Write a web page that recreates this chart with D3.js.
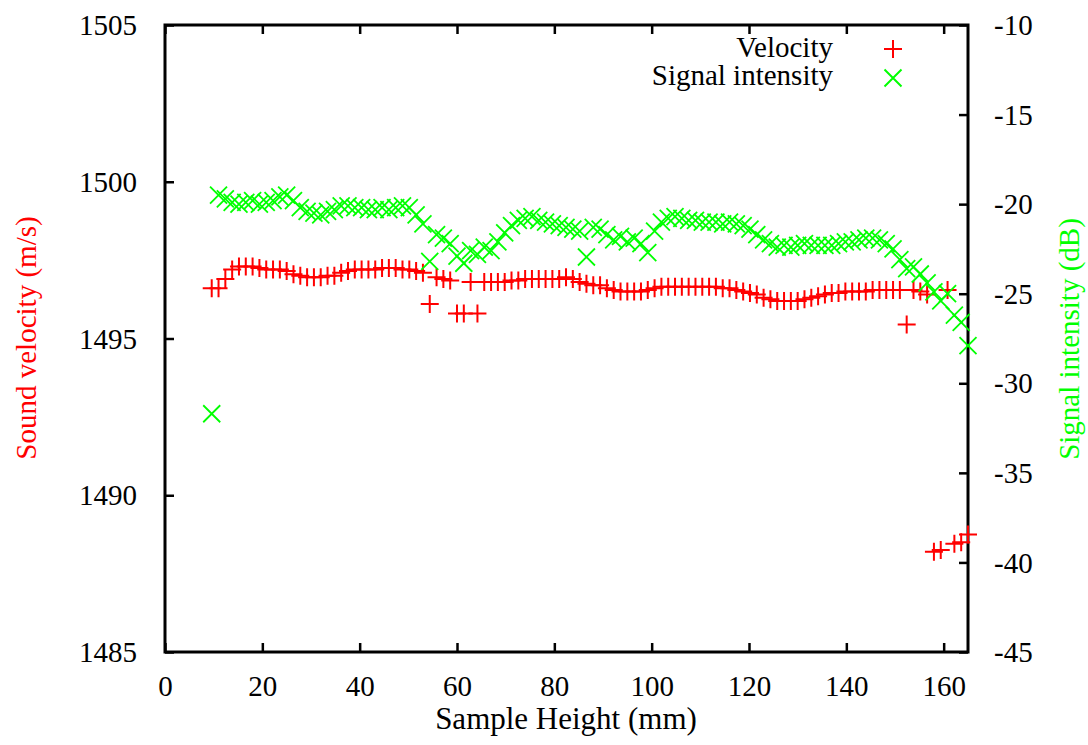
<!DOCTYPE html>
<html>
<head>
<meta charset="utf-8">
<script src="https://cdn.jsdelivr.net/npm/d3@7"></script>
<style>
  html, body { margin: 0; padding: 0; background: #fff; }
  svg text { font-family: "Liberation Serif", "DejaVu Serif", serif; font-size: 29px; }
</style>
</head>
<body>
<svg id="chart" width="1088" height="745"></svg>
<script>
// Sample heights (mm) of the scan positions
const heights = [
  9.6, 11.0, 12.4, 13.8, 15.2, 16.6, 18.0, 19.4, 20.8, 22.2, 23.6, 25.0, 26.4, 27.8,
  29.2, 30.6, 32.0, 33.4, 34.8, 36.2, 37.6, 39.0, 40.4, 41.8, 43.2, 44.6, 46.0, 47.4,
  48.8, 50.2, 51.6, 53.0, 54.4, 55.8, 57.2, 58.6, 60.0, 61.4, 62.8, 64.2, 65.6, 67.0,
  68.4, 69.8, 71.2, 72.6, 74.0, 75.4, 76.8, 78.2, 79.6, 81.0, 82.4, 83.8, 85.2, 86.6,
  88.0, 89.4, 90.8, 92.2, 93.6, 95.0, 96.4, 97.8, 99.2, 100.6, 102.0, 103.4, 104.8, 106.2,
  107.6, 109.0, 110.4, 111.8, 113.2, 114.6, 116.0, 117.4, 118.8, 120.2, 121.6, 123.0, 124.4, 125.8,
  127.2, 128.6, 130.0, 131.4, 132.8, 134.2, 135.6, 137.0, 138.4, 139.8, 141.2, 142.6, 144.0, 145.4,
  146.8, 148.2, 149.6, 151.0, 152.4, 153.8, 155.2, 156.6, 158.0, 159.4, 160.8, 162.2, 163.6, 165.0
];

// Sound velocity (m/s) at each height
const velocity = [
  1496.6, 1496.6, 1496.9, 1497.2, 1497.3, 1497.3, 1497.3, 1497.25, 1497.2, 1497.2, 1497.2, 1497.15, 1497.05, 1497.0,
  1496.95, 1496.95, 1496.95, 1497.0, 1497.0, 1497.1, 1497.15, 1497.2, 1497.2, 1497.2, 1497.2, 1497.25, 1497.25, 1497.25,
  1497.2, 1497.2, 1497.15, 1497.1, 1496.1, 1496.95, 1496.9, 1496.85, 1495.8, 1495.8, 1496.8, 1495.8, 1496.8, 1496.8,
  1496.8, 1496.8, 1496.85, 1496.85, 1496.9, 1496.9, 1496.9, 1496.9, 1496.9, 1496.9, 1496.95, 1496.9, 1496.8, 1496.75,
  1496.7, 1496.7, 1496.6, 1496.55, 1496.5, 1496.5, 1496.5, 1496.5, 1496.55, 1496.6, 1496.65, 1496.65, 1496.65, 1496.65,
  1496.65, 1496.65, 1496.65, 1496.65, 1496.65, 1496.6, 1496.6, 1496.55, 1496.5, 1496.45, 1496.4, 1496.3, 1496.25, 1496.2,
  1496.2, 1496.2, 1496.2, 1496.25, 1496.3, 1496.35, 1496.4, 1496.45, 1496.45, 1496.5, 1496.5, 1496.5, 1496.5, 1496.55,
  1496.55, 1496.55, 1496.55, 1496.55, 1495.45, 1496.55, 1496.5, 1496.4, 1488.2, 1488.25, 1496.55, 1488.45, 1488.5, 1488.75
];

// Signal intensity (dB) at each height
const intensity = [
  -31.7, -19.5, -19.7, -19.9, -20.0, -19.9, -19.8, -20.0, -19.9, -19.8, -19.6, -19.5, -19.8, -20.2,
  -20.4, -20.5, -20.6, -20.4, -20.3, -20.1, -20.1, -20.2, -20.2, -20.3, -20.3, -20.2, -20.3, -20.2,
  -20.1, -20.2, -20.6, -21.1, -23.2, -21.7, -21.9, -22.2, -22.9, -23.3, -22.6, -22.8, -22.4, -22.6,
  -22.1, -21.6, -21.2, -20.9, -20.8, -20.7, -20.9, -21.0, -21.1, -21.2, -21.3, -21.4, -21.5, -22.95,
  -21.3, -21.4, -21.7, -22.0, -21.8, -22.1, -21.9, -22.2, -22.7, -21.5, -21.0, -20.8, -20.7, -20.8,
  -20.9, -20.9, -21.0, -21.0, -21.0, -21.1, -21.0, -21.1, -21.2, -21.4, -21.7, -22.0, -22.2, -22.4,
  -22.3, -22.4, -22.3, -22.2, -22.3, -22.3, -22.3, -22.3, -22.2, -22.1, -22.1, -22.0, -21.9, -21.9,
  -22.0, -22.2, -22.5, -23.1, -23.6, -23.5, -23.9, -24.4, -24.9, -25.4, -25.0, -26.2, -26.6, -27.9
];

// Tick values
const xTicks = [0, 20, 40, 60, 80, 100, 120, 140, 160];
const yTicks = [1485, 1490, 1495, 1500, 1505];
const y2Ticks = [-10, -15, -20, -25, -30, -35, -40, -45];

const RED = "#ff0000";
const GREEN = "#00ff00";

const svg = d3.select("#chart");
const plotLeft = 165, plotRight = 968, plotTop = 25, plotBottom = 652;

const x = d3.scaleLinear().domain([0, 165]).range([plotLeft, plotRight]);
const y = d3.scaleLinear().domain([1485, 1505]).range([plotBottom, plotTop]);
const y2 = d3.scaleLinear().domain([-45, -10]).range([plotBottom, plotTop]);

const TICK = 9;

// Bottom x axis with inward ticks, mirrored on the top edge
const xAxis = svg.append("g").attr("transform", `translate(0,${plotBottom})`)
  .call(d3.axisBottom(x).tickValues(xTicks).tickSize(-TICK).tickPadding(TICK + 14).tickFormat(d3.format("d")));
const xTop = svg.append("g").attr("transform", `translate(0,${plotTop})`)
  .call(d3.axisTop(x).tickValues(xTicks).tickSize(-TICK).tickFormat(""));

// Left axis: sound velocity
const yAxis = svg.append("g").attr("transform", `translate(${plotLeft},0)`)
  .call(d3.axisLeft(y).tickValues(yTicks).tickSize(-TICK).tickPadding(TICK + 19).tickFormat(d3.format("d")));

// Right axis: signal intensity
const y2Axis = svg.append("g").attr("transform", `translate(${plotRight},0)`)
  .call(d3.axisRight(y2).tickValues(y2Ticks).tickSize(-TICK).tickPadding(TICK + 17).tickFormat(d => String(d)));

[xAxis, xTop, yAxis, y2Axis].forEach(g => {
  g.attr("font-family", null).attr("font-size", null);
  g.select(".domain").remove();
  g.selectAll(".tick line").attr("stroke", "#000").attr("stroke-width", 2.5);
  g.selectAll(".tick text").attr("fill", "#000");
});
xAxis.selectAll(".tick text").attr("dy", "0.71em");
yAxis.selectAll(".tick text").attr("dy", "0.33em");
y2Axis.selectAll(".tick text").attr("dy", "0.33em");

// Plot frame
svg.append("rect")
  .attr("x", plotLeft).attr("y", plotTop)
  .attr("width", plotRight - plotLeft).attr("height", plotBottom - plotTop)
  .attr("fill", "none").attr("stroke", "#000").attr("stroke-width", 3);

const plusPath = "M-9,0H9M0,-9V9";
const crossPath = "M-8.5,-8.5L8.5,8.5M-8.5,8.5L8.5,-8.5";

svg.append("clipPath").attr("id", "plotclip")
  .append("rect").attr("x", plotLeft).attr("y", plotTop).attr("width", plotRight - plotLeft + 10).attr("height", plotBottom - plotTop);

const plot = svg.append("g").attr("clip-path", "url(#plotclip)");

// Velocity markers (+)
plot.append("g").selectAll("path")
  .data(heights.map((h, i) => [h, velocity[i]]))
  .join("path")
  .attr("transform", d => `translate(${x(d[0])},${y(d[1])})`)
  .attr("d", plusPath)
  .attr("fill", "none").attr("stroke", RED).attr("stroke-width", 2);

// Signal intensity markers (x)
plot.append("g").selectAll("path")
  .data(heights.map((h, i) => [h, intensity[i]]))
  .join("path")
  .attr("transform", d => `translate(${x(d[0])},${y2(d[1])})`)
  .attr("d", crossPath)
  .attr("fill", "none").attr("stroke", GREEN).attr("stroke-width", 1.8);

// Legend
const legend = svg.append("g");
const legendItems = [
  { label: "Velocity", color: RED, path: plusPath, ty: 57, my: 49 },
  { label: "Signal intensity", color: GREEN, path: crossPath, ty: 85, my: 78 }
];
legendItems.forEach(it => {
  legend.append("text").attr("x", 833).attr("y", it.ty).attr("text-anchor", "end").text(it.label);
  legend.append("path").attr("transform", `translate(893,${it.my})`).attr("d", it.path)
    .attr("fill", "none").attr("stroke", it.color).attr("stroke-width", 2);
});

// Axis titles
svg.append("text").style("font-size", "31px").attr("x", 566).attr("y", 729).attr("text-anchor", "middle").text("Sample Height (mm)");
svg.append("text").attr("transform", "translate(36,338) rotate(-90)").attr("text-anchor", "middle")
  .style("fill", RED).text("Sound velocity (m/s)");
svg.append("text").attr("transform", "translate(1079,339) rotate(-90)").attr("text-anchor", "middle")
  .style("fill", GREEN).text("Signal intensity (dB)");
</script>
</body>
</html>
